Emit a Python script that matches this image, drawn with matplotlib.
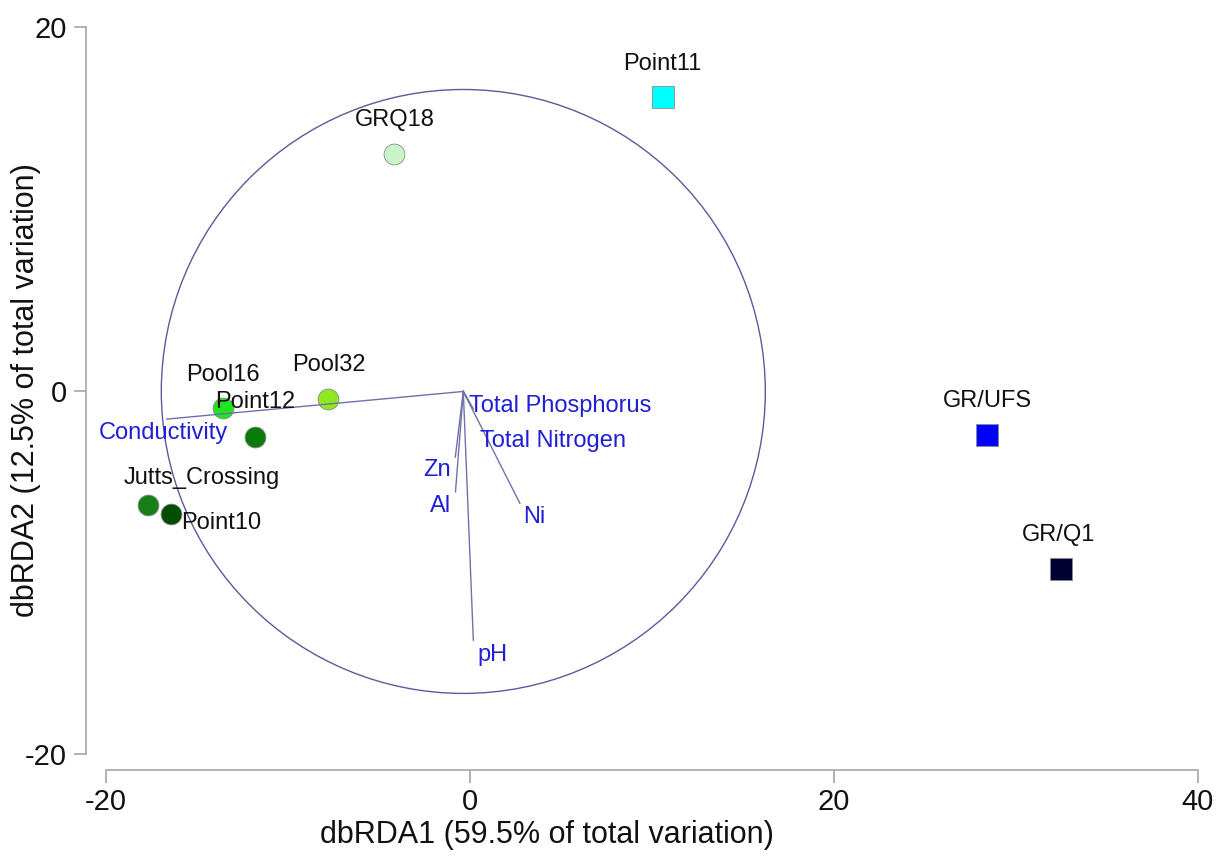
import matplotlib
matplotlib.use("Agg")
import matplotlib.pyplot as plt
from matplotlib.patches import Circle

plt.rcParams["font.family"] = ["Liberation Sans", "DejaVu Sans"]
plt.rcParams["axes.unicode_minus"] = False

# ------------------------------------------------------------
#   data
# ------------------------------------------------------------
samples = ["Pool16", "Pool32", "Point12", "Jutts_Crossing", "Point10",
           "GRQ18", "Point11", "GR/UFS", "GR/Q1"]
dbrda1 = [-13.55, -7.78, -11.81, -17.71, -16.45, -4.15, 10.59, 28.43, 32.48]
dbrda2 = [-0.98, -0.48, -2.54, -6.29, -6.81, 12.99, 16.14, -2.46, -9.80]
sample_colors = ["#1ee61e", "#8fe81f", "#0a7a0a", "#168016", "#034d03",
                 "#c8f5c8", "#00ffff", "#0000ff", "#000033"]
sample_markers = ["o", "o", "o", "o", "o", "o", "s", "s", "s"]
# label offsets in pixels (right, down) from the point
sample_label_off = [(0, -33), (1, -34), (0, -35), (54, -27), (51, 9),
                    (0, -34), (0, -33), (0, -34), (-2, -34)]

# vectors, relative to the origin
variables = ["Conductivity", "Total Phosphorus", "Total Nitrogen",
             "Zn", "Al", "Ni", "pH"]
vec_x = [-16.30, 0.25, 0.55, -0.44, -0.43, 3.11, 0.55]
vec_y = [-1.52, -0.45, -0.95, -3.61, -5.51, -6.15, -13.67]
vec_label_off = [(-3, 14), (92, 6), (80, 32), (-18, 13), (-15, 14),
                 (14, 14), (19, 15)]

origin = (-0.36, -0.05)
circle_radius = 16.6

xticks = [-20, 0, 20, 40]
yticks = [-20, 0, 20]
xlabel = "dbRDA1 (59.5% of total variation)"
ylabel = "dbRDA2 (12.5% of total variation)"

# ------------------------------------------------------------
#   figure
# ------------------------------------------------------------
W, H = 1224, 857
fig = plt.figure(figsize=(W / 100, H / 100), dpi=100)
ax = fig.add_axes([86 / W, (H - 770) / H, 1115.2 / W, 746.9 / H])
ax.set_xlim(-21.1, 40.2)
ax.set_ylim(-20.86, 20.2)

def px(off):
    # pixel offset (right, down) -> points offset
    return (off[0] * 0.72, -off[1] * 0.72)

# circle
ax.add_patch(Circle(origin, circle_radius, fill=False,
                    edgecolor="#5a5a9e", linewidth=1.0, zorder=1))

# sample points
for name, x, y, c, m, off in zip(samples, dbrda1, dbrda2, sample_colors,
                                 sample_markers, sample_label_off):
    ax.scatter([x], [y], s=250 if m == "s" else 225, marker=m, color=c,
               edgecolors="#8a8a8a", linewidths=0.6, zorder=3)
    ax.annotate(name, (x, y), xytext=px(off), textcoords="offset points",
                ha="center", va="center", fontsize=17, color="#111111",
                zorder=5)

# vectors
for name, vx, vy, off in zip(variables, vec_x, vec_y, vec_label_off):
    ex, ey = origin[0] + vx, origin[1] + vy
    ax.plot([origin[0], ex], [origin[1], ey], color="#7070aa",
            linewidth=1.0, zorder=4)
    ax.annotate(name, (ex, ey), xytext=px(off), textcoords="offset points",
                ha="center", va="center", fontsize=17, color="#1f1fd6",
                zorder=5)

# axes styling
for s in ["top", "right"]:
    ax.spines[s].set_visible(False)
for s in ["left", "bottom"]:
    ax.spines[s].set_color("#a6a6a6")
    ax.spines[s].set_linewidth(1.2)
ax.spines["left"].set_bounds(-20, 20)
ax.spines["bottom"].set_bounds(-20, 40)
ax.set_xticks(xticks)
ax.set_yticks(yticks)
ax.tick_params(axis="both", length=9, width=1.2, color="#a6a6a6",
               labelsize=21, labelcolor="#111111")
ax.tick_params(axis="x", pad=4)
ax.tick_params(axis="y", pad=5)

ax.set_xlabel(xlabel, fontsize=22, color="#111111")
ax.xaxis.label.set_va("center")
ax.xaxis.set_label_coords((546.7 - 86) / 1115.2, (770 - 835) / 746.9)
ax.set_ylabel(ylabel, fontsize=22, color="#111111")
ax.yaxis.label.set_va("center")
ax.yaxis.set_label_coords((26 - 86) / 1115.2, (770 - 390.5) / 746.9)

fig.savefig("out.png", dpi=100)
